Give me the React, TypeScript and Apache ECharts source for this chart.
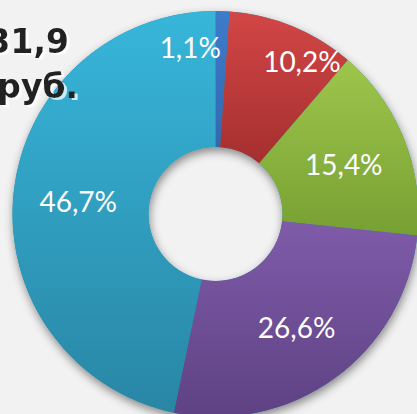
import React, { useEffect, useRef } from "react";
import * as echarts from "echarts";

const categories = ["Сегмент 1", "Сегмент 2", "Сегмент 3", "Сегмент 4", "Сегмент 5"];
const shares = [1.1, 10.2, 15.4, 26.6, 46.7];
const topColors = ["#3d7cca", "#d34646", "#9ec64c", "#7f5ba9", "#37b6da"];
const bottomColors = ["#3368b0", "#a52f2f", "#77a033", "#5e4283", "#2986a5"];
const labelNudges: [number, number][] = [[-30, -29], [34, -25], [0, 1], [0, 1], [0, 1]];
const titleLines = ["31,9", "руб."];

export default function App() {
  const ref = useRef<HTMLDivElement>(null);
  useEffect(() => {
    if (!ref.current) return;
    const chart = echarts.init(ref.current, null, { renderer: "svg" });
    const center = [215.5, 214];
    const radius = [67, 203];
    const titleStyle = {
      textAlign: "right",
      textVerticalAlign: "bottom",
      fontFamily: "DejaVu Sans",
      fontWeight: "bold",
      fontSize: 33,
      fill: "#222222",
      textShadowColor: "rgba(255,255,255,0.75)",
      textShadowOffsetX: 3,
      textShadowOffsetY: 2,
      textShadowBlur: 1,
    };
    chart.setOption({
      animation: false,
      backgroundColor: "#f2f2f2",
      series: [
        {
          type: "pie",
          silent: true,
          center,
          radius,
          label: { show: false },
          labelLine: { show: false },
          itemStyle: {
            color: "#2a8aa8",
            shadowBlur: 10,
            shadowOffsetX: 1,
            shadowOffsetY: 4,
            shadowColor: "rgba(0,0,0,0.45)",
          },
          data: [{ value: 100, name: "bg" }],
          z: 1,
        },
        {
          type: "pie",
          center,
          radius,
          startAngle: 90,
          clockwise: true,
          avoidLabelOverlap: false,
          z: 2,
          label: {
            show: true,
            position: "inside",
            color: "#ffffff",
            fontFamily: "Lato",
            fontSize: 28,
            formatter: (p: any) => String(p.value).replace(".", ",") + "%",
          },
          labelLine: { show: false },
          labelLayout: (params: any) => {
            const n = labelNudges[params.dataIndex] || [0, 0];
            return { dx: n[0], dy: n[1] };
          },
          data: shares.map((v, i) => ({
            value: v,
            name: categories[i],
            itemStyle: {
              color: new echarts.graphic.LinearGradient(0, 0, 0, 1, [
                { offset: 0, color: topColors[i] },
                { offset: 1, color: bottomColors[i] },
              ]),
            },
          })),
        },
      ],
      graphic: [
        {
          type: "text",
          z: 100,
          x: 69,
          y: 58,
          style: { ...titleStyle, text: titleLines[0] },
        },
        {
          type: "text",
          z: 100,
          x: 78,
          y: 103,
          style: { ...titleStyle, text: titleLines[1] },
        },
      ],
    });
    return () => chart.dispose();
  }, []);
  return (
    <div
      ref={ref}
      style={{ position: "fixed", left: 0, top: 0, width: 417, height: 414 }}
    />
  );
}
